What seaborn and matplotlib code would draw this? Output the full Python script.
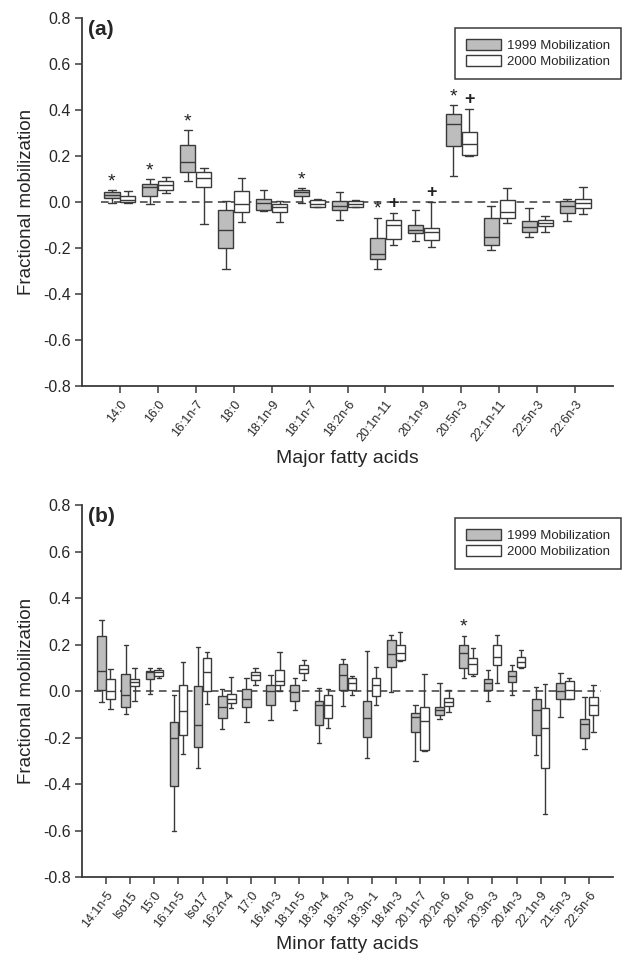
import pandas as pd
import seaborn as sns
import matplotlib.pyplot as plt

# five-number summaries:
# (low whisker, Q1, median, Q3, high whisker)
major_acids = ["14:0", "16:0", "16:1n-7", "18:0", "18:1n-9", "18:1n-7", "18:2n-6",
               "20:1n-11", "20:1n-9", "20:5n-3", "22:1n-11", "22:5n-3", "22:6n-3"]
major_1999 = [
    (-0.003, 0.018, 0.029, 0.044, 0.051),
    (-0.007, 0.025, 0.064, 0.079, 0.100),
    (0.090, 0.131, 0.175, 0.250, 0.312),
    (-0.289, -0.201, -0.121, -0.036, 0.007),
    (-0.040, -0.036, -0.005, 0.012, 0.054),
    (-0.004, 0.028, 0.042, 0.054, 0.061),
    (-0.077, -0.036, -0.017, 0.003, 0.042),
    (-0.293, -0.248, -0.226, -0.155, -0.067),
    (-0.168, -0.136, -0.121, -0.099, -0.034),
    (0.112, 0.244, 0.339, 0.385, 0.422),
    (-0.209, -0.187, -0.150, -0.070, -0.015),
    (-0.153, -0.131, -0.107, -0.080, -0.026),
    (-0.080, -0.048, -0.015, 0.003, 0.013),
]
major_2000 = [
    (-0.003, 0.000, 0.011, 0.026, 0.047),
    (0.039, 0.054, 0.074, 0.090, 0.110),
    (-0.096, 0.066, 0.105, 0.131, 0.149),
    (-0.088, -0.044, -0.010, 0.047, 0.105),
    (-0.085, -0.041, -0.022, -0.010, 0.003),
    (-0.022, -0.019, -0.006, 0.010, 0.015),
    (-0.022, -0.020, -0.008, 0.003, 0.010),
    (-0.187, -0.162, -0.099, -0.077, -0.048),
    (-0.194, -0.165, -0.131, -0.111, -0.001),
    (0.203, 0.207, 0.255, 0.307, 0.404),
    (-0.089, -0.070, -0.044, 0.010, 0.061),
    (-0.131, -0.104, -0.089, -0.077, -0.060),
    (-0.051, -0.026, -0.004, 0.013, 0.064),
]
major_star = ["14:0", "16:0", "16:1n-7", "18:1n-7", "20:1n-11", "20:5n-3"]
major_plus = ["20:1n-11", "20:1n-9", "20:5n-3"]

minor_acids = ["14:1n-5", "Iso15", "15:0", "16:1n-5", "Iso17", "16:2n-4", "17:0",
               "16:4n-3", "18:1n-5", "18:3n-4", "18:3n-3", "18:3n-1", "18:4n-3",
               "20:1n-7", "20:2n-6", "20:4n-6", "20:3n-3", "20:4n-3", "22:1n-9",
               "21:5n-3", "22:5n-6"]
minor_1999 = [
    (-0.048, 0.006, 0.086, 0.236, 0.307),
    (-0.099, -0.067, -0.015, 0.072, 0.200),
    (-0.012, 0.050, 0.080, 0.088, 0.100),
    (-0.600, -0.407, -0.203, -0.134, -0.016),
    (-0.331, -0.239, -0.144, 0.020, 0.188),
    (-0.165, -0.118, -0.070, -0.022, 0.010),
    (-0.133, -0.067, -0.034, 0.007, 0.057),
    (-0.126, -0.062, -0.002, 0.028, 0.068),
    (-0.082, -0.044, -0.004, 0.025, 0.054),
    (-0.224, -0.144, -0.058, -0.042, 0.015),
    (-0.066, 0.003, 0.070, 0.115, 0.137),
    (-0.288, -0.198, -0.116, -0.045, 0.173),
    (-0.004, 0.103, 0.160, 0.218, 0.240),
    (-0.303, -0.175, -0.110, -0.095, -0.060),
    (-0.122, -0.102, -0.083, -0.069, 0.036),
    (0.057, 0.099, 0.165, 0.200, 0.237),
    (-0.044, 0.003, 0.036, 0.053, 0.089),
    (-0.019, 0.039, 0.065, 0.085, 0.113),
    (-0.274, -0.191, -0.083, -0.033, 0.017),
    (-0.112, -0.036, 0.000, 0.036, 0.077),
    (-0.248, -0.202, -0.140, -0.119, -0.026),
]
minor_2000 = [
    (-0.077, -0.036, 0.000, 0.050, 0.095),
    (-0.041, 0.022, 0.038, 0.051, 0.098),
    (0.057, 0.066, 0.080, 0.092, 0.100),
    (-0.270, -0.187, -0.088, 0.028, 0.123),
    (-0.055, 0.000, 0.083, 0.142, 0.168),
    (-0.075, -0.053, -0.036, -0.012, 0.059),
    (0.025, 0.047, 0.069, 0.083, 0.100),
    (0.000, 0.025, 0.045, 0.090, 0.170),
    (0.047, 0.076, 0.095, 0.112, 0.134),
    (-0.158, -0.117, -0.060, -0.016, 0.010),
    (-0.017, 0.003, 0.035, 0.055, 0.065),
    (-0.060, -0.022, 0.028, 0.056, 0.104),
    (0.130, 0.135, 0.165, 0.200, 0.253),
    (-0.256, -0.252, -0.130, -0.070, 0.075),
    (-0.090, -0.066, -0.047, -0.030, 0.003),
    (0.065, 0.075, 0.118, 0.143, 0.186),
    (0.036, 0.110, 0.146, 0.196, 0.240),
    (0.101, 0.104, 0.127, 0.147, 0.177),
    (-0.530, -0.331, -0.159, -0.073, 0.029),
    (-0.036, -0.034, 0.003, 0.042, 0.057),
    (-0.176, -0.102, -0.062, -0.027, 0.027),
]
minor_star = ["20:4n-6"]
minor_plus = []

years = ["1999 Mobilization", "2000 Mobilization"]
INK = "#3a3a3a"


def long_table(acids, s1999, s2000):
    rows = []
    for year, summaries in zip(years, [s1999, s2000]):
        for acid, five in zip(acids, summaries):
            for v in five:
                rows.append({"acid": acid, "year": year, "value": v})
    return pd.DataFrame(rows)


sns.set_style("ticks")
plt.rcParams["font.family"] = ["Liberation Sans", "DejaVu Sans"]

fig = plt.figure(figsize=(6.25, 9.66), dpi=100)
ax_a = fig.add_axes([0.131, 0.6005, 0.850, 0.3805])
ax_b = fig.add_axes([0.131, 0.0921, 0.850, 0.3851])

panels = [
    (ax_a, "(a)", "Major fatty acids", major_acids, major_1999, major_2000,
     major_star, major_plus, 0.84, 28),
    (ax_b, "(b)", "Minor fatty acids", minor_acids, minor_1999, minor_2000,
     minor_star, minor_plus, 0.74, 518),
]

for ax, tag, xlab, acids, s99, s00, stars, pluses, w, leg_y in panels:
    df = long_table(acids, s99, s00)
    n = len(acids)
    ax.plot([-0.5, n - 0.5], [0, 0], ls=(0, (5, 3.5)), color=INK, lw=1.1, zorder=0)
    sns.boxplot(data=df, x="acid", y="value", hue="year", order=acids,
                hue_order=years, palette={years[0]: "#bdbdbd", years[1]: "white"},
                linecolor=INK, linewidth=1.0, width=w, gap=0.04,
                whis=(0, 100), fliersize=0, ax=ax)

    off = w / 4
    for i, acid in enumerate(acids):
        if acid in stars:
            top = max(s99[i])
            ax.annotate("*", (i - off, top), xytext=(0, 0), textcoords="offset points",
                        ha="center", va="bottom", fontsize=14, color="#222222")
        if acid in pluses:
            top = max(s00[i])
            ax.annotate("+", (i + off, top), xytext=(0, 1), textcoords="offset points",
                        ha="center", va="bottom", fontsize=13, fontweight="bold",
                        color="#222222")

    ax.set_xlim(-1, n)
    ax.set_ylim(-0.8, 0.8)
    ax.set_yticks([-0.8, -0.6, -0.4, -0.2, 0.0, 0.2, 0.4, 0.6, 0.8])
    ax.set_yticklabels([f"{t:.1f}" for t in ax.get_yticks()])
    ax.set_xticks(range(n))
    ax.set_xticklabels(acids, rotation=52, ha="right", rotation_mode="anchor",
                       fontsize=9)
    ax.tick_params(axis="y", labelsize=11.5, length=5, width=1.1, color=INK, pad=3)
    ax.tick_params(axis="x", length=5, width=1.1, color=INK, pad=4)
    for side in ["left", "bottom"]:
        ax.spines[side].set_color(INK)
        ax.spines[side].set_linewidth(1.3)
    sns.despine(ax=ax)
    ax.set_ylabel("Fractional mobilization", fontsize=13.5, labelpad=6)
    ax.set_xlabel(xlab, fontsize=14, labelpad=4)
    ax.text(0.012, 0.995, tag, transform=ax.transAxes, fontsize=15,
            fontweight="bold", va="top", ha="left")
    sns.move_legend(ax, loc="upper left", bbox_to_anchor=(455 / 625, 1 - leg_y / 966),
                    bbox_transform=fig.transFigure, borderaxespad=0, title=None,
                    frameon=True, fancybox=False, fontsize=9.5, handlelength=2.6,
                    handleheight=0.85, borderpad=0.85, labelspacing=0.25,
                    handletextpad=0.5, edgecolor=INK, framealpha=1)
    ax.get_legend().get_frame().set_linewidth(1.1)

fig.savefig("out.png", dpi=100)
